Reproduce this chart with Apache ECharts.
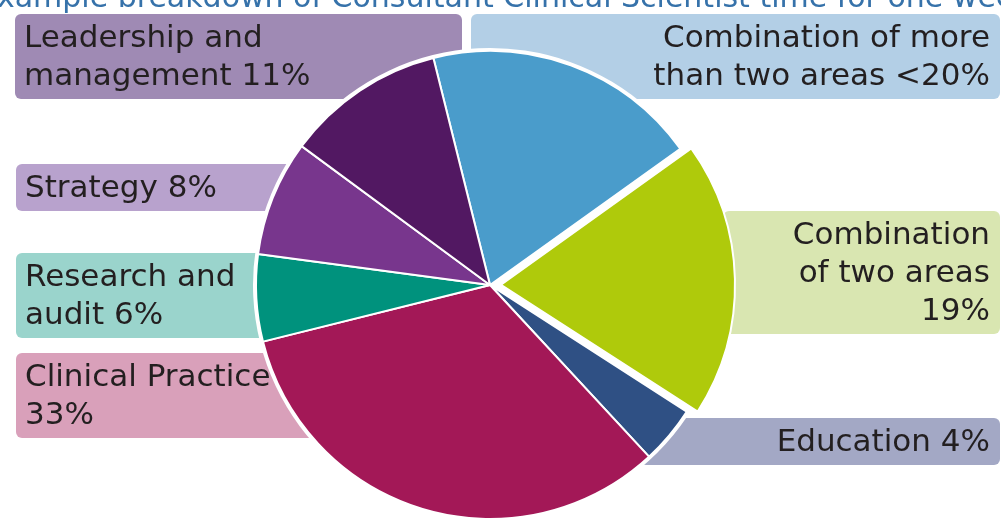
<!DOCTYPE html>
<html>
<head>
<meta charset="utf-8">
<script src="https://cdn.jsdelivr.net/npm/echarts@6/dist/echarts.min.js"></script>
<style>
html,body{margin:0;padding:0;background:#fff;}
#chart{width:1001px;height:520px;}
</style>
</head>
<body>
<div id="chart"></div>
<script>
// ---- data ----
const title = 'Example breakdown of Consultant Clinical Scientist time for one week';
const categories = ['Combination of more than two areas', 'Combination of two areas', 'Education', 'Clinical Practice', 'Research and audit', 'Strategy', 'Leadership and management'];
const values = [19, 19, 4, 33, 6, 8, 11];
const labelTexts = ['Combination of more\nthan two areas <20%', 'Combination\nof two areas\n19%', 'Education 4%', 'Clinical Practice\n33%', 'Research and\naudit 6%', 'Strategy 8%', 'Leadership and\nmanagement 11%'];
const exploded = [false, true, false, false, false, false, false];

// ---- styles / layout ----
const sliceColors = ['#4A9CCB', '#AFCA0B', '#2F5084', '#A31857', '#00927D', '#78368D', '#521862'];
const boxColors = ['#B3CFE6', '#D9E6B1', '#A3A8C5', '#D9A0BA', '#9AD4CC', '#B8A2CD', '#9F8AB4'];
// [x, y, width, height, align]
const boxLayout = [
  [471, 14, 529, 85, 'right'],
  [723, 211, 277, 123, 'right'],
  [640, 418, 360, 47, 'right'],
  [16, 353, 320, 85, 'left'],
  [16, 253, 280, 85, 'left'],
  [16, 164, 300, 47, 'left'],
  [15, 14, 447, 85, 'left']
];
const FONT = '"DejaVu Sans", sans-serif';

const chart = echarts.init(document.getElementById('chart'), null, {renderer: 'canvas'});

const graphics = [];
boxLayout.forEach((b, i) => {
  graphics.push({
    type: 'rect', z: 0,
    shape: {x: b[0], y: b[1], width: b[2], height: b[3], r: 6},
    style: {fill: boxColors[i]}
  });
  graphics.push({
    type: 'text', z: 100,
    x: b[4] === 'left' ? b[0] + 9 : b[0] + b[2] - 10,
    y: b[1] + b[3] / 2 + 1,
    style: {
      text: labelTexts[i], fill: '#231F20', fontSize: 31, lineHeight: 38,
      fontFamily: FONT, align: b[4], verticalAlign: 'middle'
    }
  });
});
graphics.push({
  type: 'text', z: 100, x: -22, y: -1,
  style: {text: title, fill: '#3672AA', fontSize: 30, fontFamily: FONT, align: 'left', verticalAlign: 'middle'}
});

chart.setOption({
  animation: false,
  graphic: {elements: graphics},
  series: [
    {
      type: 'pie', z: 1, silent: true,
      center: [490, 285], radius: 237, startAngle: 104,
      label: {show: false}, labelLine: {show: false},
      itemStyle: {color: '#ffffff'},
      data: [{value: 1}]
    },
    {
      type: 'pie', z: 2,
      center: [490, 285], radius: 234, startAngle: 104,
      clockwise: true,
      selectedMode: 'multiple', selectedOffset: 11,
      label: {show: false}, labelLine: {show: false},
      emphasis: {disabled: true},
      itemStyle: {borderColor: '#ffffff', borderWidth: 2},
      data: categories.map((c, i) => ({
        name: c, value: values[i], selected: exploded[i],
        itemStyle: {color: sliceColors[i]}
      }))
    }
  ]
});
</script>
</body>
</html>
